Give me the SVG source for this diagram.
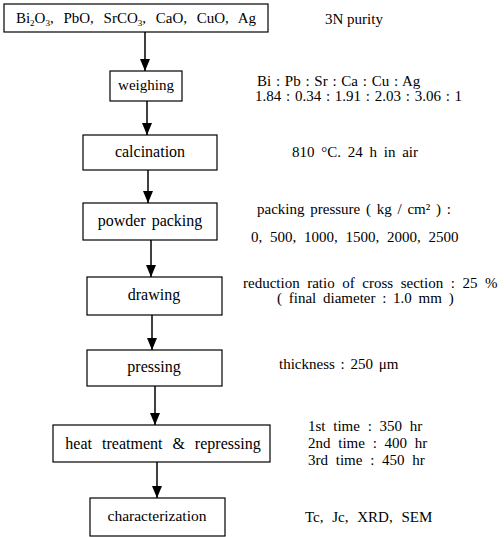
<svg xmlns="http://www.w3.org/2000/svg" width="504" height="537" viewBox="0 0 504 537">
<defs>
<marker id="ah" viewBox="0 0 12 10" refX="12" refY="5" markerWidth="12" markerHeight="10" markerUnits="userSpaceOnUse" orient="auto">
<path d="M0,0 L12,5 L0,10 Z" fill="#000"/>
</marker>
<style>
.box{fill:#fff;stroke:#000;stroke-width:1.2}
text{font-family:'Liberation Serif','Times New Roman',serif;font-size:15px;fill:#000}
.c{text-anchor:middle}
.b{font-size:16px}
.e{stroke:#000;stroke-width:1.5;fill:none}
</style>
</defs>
<rect width="504" height="537" fill="#fff"/>
<g id="connectors">
<line class="e" x1="145" y1="32" x2="145" y2="71" marker-end="url(#ah)"/>
<line class="e" x1="147" y1="101" x2="147" y2="135" marker-end="url(#ah)"/>
<line class="e" x1="148" y1="170" x2="148" y2="203" marker-end="url(#ah)"/>
<line class="e" x1="151" y1="240" x2="151" y2="277" marker-end="url(#ah)"/>
<line class="e" x1="152" y1="315" x2="152" y2="350" marker-end="url(#ah)"/>
<line class="e" x1="155" y1="386" x2="155" y2="425" marker-end="url(#ah)"/>
<line class="e" x1="157" y1="462" x2="157" y2="498" marker-end="url(#ah)"/>
</g>
<g font-family="Liberation Serif, Times New Roman, serif" font-size="15">
<g id="n1"><rect class="box" x="4" y="4" width="264" height="28"/>
<text class="c" x="136" y="23" word-spacing="6">Bi<tspan font-size="9" dy="3">2</tspan><tspan dy="-3">O</tspan><tspan font-size="9" dy="3">3</tspan><tspan dy="-3">, PbO, SrCO</tspan><tspan font-size="9" dy="3">3</tspan><tspan dy="-3">, CaO, CuO, Ag</tspan></text></g>
<g id="n2"><rect class="box" x="110" y="71" width="72" height="30"/><text class="c" x="146" y="90">weighing</text></g>
<g id="n3"><rect class="box" x="83" y="135" width="134" height="35"/><text class="c b" x="150" y="157">calcination</text></g>
<g id="n4"><rect class="box" x="83" y="203" width="134" height="37"/><text class="c b" x="150" y="226" word-spacing="2">powder packing</text></g>
<g id="n5"><rect class="box" x="87" y="277" width="135" height="38"/><text class="c b" x="154" y="300">drawing</text></g>
<g id="n6"><rect class="box" x="87" y="350" width="135" height="36"/><text class="c b" x="154" y="372">pressing</text></g>
<g id="n7"><rect class="box" x="53" y="425" width="217" height="37"/><text class="c b" x="163" y="449" word-spacing="6">heat treatment &amp; repressing</text></g>
<g id="n8"><rect class="box" x="90" y="498" width="135" height="38"/><text class="c b" x="157" y="521" style="font-size:15.5px">characterization</text></g>
<g id="notes">
<text x="325" y="24">3N purity</text>
<text x="257" y="86" word-spacing="1">Bi : Pb : Sr : Ca : Cu : Ag</text>
<text x="255" y="101" word-spacing="1">1.84 : 0.34 : 1.91 : 2.03 : 3.06 : 1</text>
<text x="292" y="157" word-spacing="3">810 °C. 24 h in air</text>
<text x="257" y="214" word-spacing="2">packing pressure ( kg / cm² ) :</text>
<text x="251" y="242" word-spacing="4">0, 500, 1000, 1500, 2000, 2500</text>
<text x="243" y="288" word-spacing="3.8">reduction ratio of cross section : 25 %</text>
<text x="277" y="303" word-spacing="3">( final diameter : 1.0 mm )</text>
<text x="279" y="369" word-spacing="2">thickness : 250 μm</text>
<text x="308" y="431" word-spacing="4">1st time : 350 hr</text>
<text x="308" y="448" word-spacing="4">2nd time : 400 hr</text>
<text x="308" y="465" word-spacing="4">3rd time : 450 hr</text>
<text x="305" y="522" word-spacing="5">Tc, Jc, XRD, SEM</text>
</g>
</g>
</svg>
